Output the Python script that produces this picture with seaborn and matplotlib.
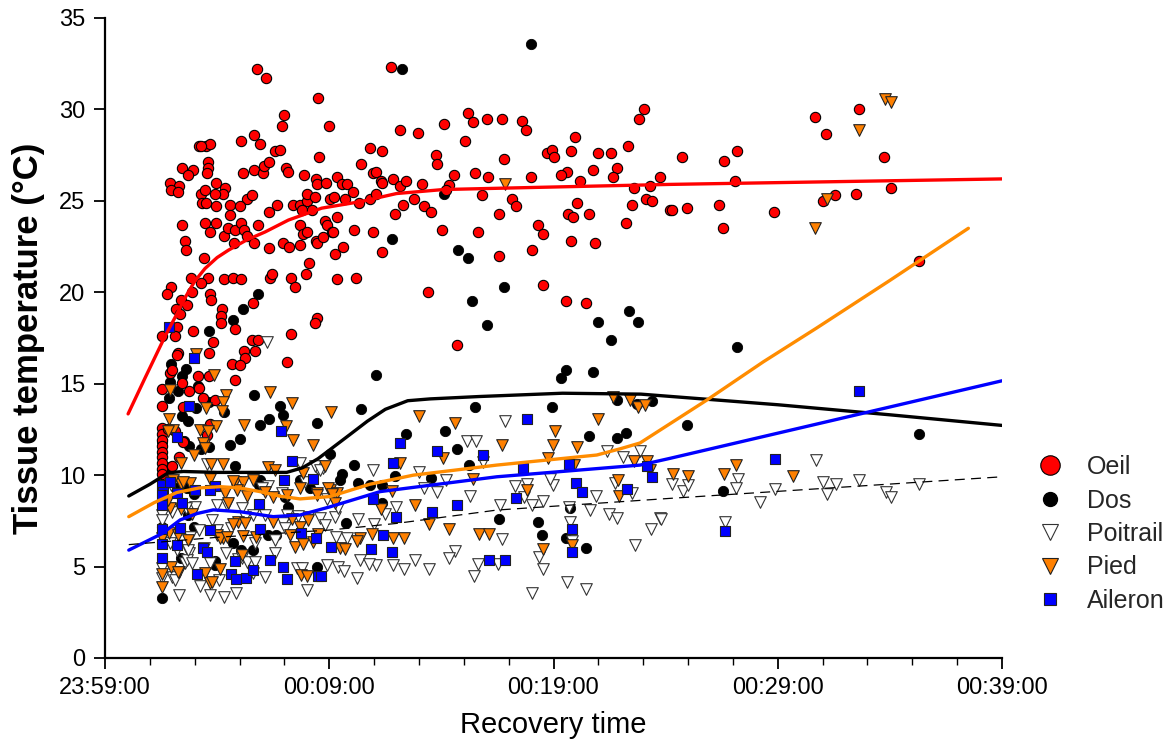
import matplotlib
matplotlib.use("Agg")
import matplotlib.pyplot as plt
import seaborn as sns
import pandas as pd
from matplotlib.lines import Line2D
from matplotlib.ticker import MultipleLocator, FixedLocator, FixedFormatter

# ---------------- data (x = minutes after 23:59:00, y = temperature °C) -------------
xtick_pos = [0, 10, 20, 30, 40]
xtick_labels = ["23:59:00", "00:09:00", "00:19:00", "00:29:00", "00:39:00"]
ytick_vals = [0, 5, 10, 15, 20, 25, 30, 35]

oeil = [
    (6.8,32.2),(7.2,31.7),(9.5,30.6),(8.0,29.7),(7.9,29.1),(10.0,29.1),
    (4.2,28.0),(4.5,28.0),(4.7,28.1),(4.3,28.0),(6.05,28.3),(6.65,28.6),(6.9,28.1),(7.57,27.7),(7.82,27.8),(9.56,27.4),
    (4.6,27.1),(4.6,26.8),(4.54,26.5),(3.43,26.8),(3.94,26.7),(3.72,26.4),(2.89,26.0),(3.31,25.8),(2.94,25.6),(3.26,25.5),
    (4.94,26.0),(5.37,25.7),(5.26,25.4),(4.92,25.4),(4.27,25.4),(4.47,25.6),(4.31,24.9),(4.52,24.9),(4.95,24.7),
    (6.17,26.5),(6.65,26.7),(7.03,26.5),(7.08,26.9),(7.33,27.1),(8.09,26.8),(8.15,26.6),(8.89,26.4),
    (9.4,26.2),(9.46,25.9),(9.87,26.0),(10.35,26.3),(10.58,25.9),(10.78,25.9),
    (6.33,25.1),(6.54,25.3),(5.59,24.8),(6.04,24.7),(7.67,24.8),(8.37,24.8),(8.7,24.8),(9.02,25.0),(9.01,25.4),(9.35,25.2),
    (8.79,24.5),(9.25,24.5),(10.04,25.1),(10.23,25.2),
    (5.58,24.2),(7.3,24.4),(3.43,23.7),(4.47,23.8),(4.94,23.8),(4.7,23.3),(5.29,23.1),(5.47,23.5),(5.78,23.4),(6.08,23.8),
    (6.2,23.4),(6.32,23.1),(6.82,23.7),(5.77,22.7),(6.65,22.7),
    (8.71,23.7),(8.83,23.2),(9.0,23.3),(9.83,23.9),(9.89,23.7),(10.14,23.3),(7.95,22.7),(8.22,22.5),(7.33,22.4),(8.71,22.6),
    (9.4,22.8),(9.46,22.7),(9.74,23.0),(10.27,22.1),(10.63,22.5),
    (3.55,22.8),(3.63,22.3),(4.43,21.9),(9.11,21.6),
    (3.85,20.8),(4.61,20.8),(5.29,20.7),(5.71,20.8),(6.05,20.7),(4.3,20.5),(7.34,20.8),(7.45,21.0),(8.31,20.8),(8.47,20.3),
    (8.95,21.0),(10.33,20.7),
    (2.96,20.3),(2.75,19.9),(3.39,19.6),(3.66,19.3),(3.17,19.1),(3.35,18.8),(3.86,20.0),(4.7,19.9),(4.73,19.6),(5.21,19.1),
    (5.16,18.7),(5.17,18.3),(5.8,18.0),(6.59,19.4),(9.46,18.6),(9.37,18.3),
    (3.21,18.1),(2.56,17.6),(3.14,17.6),(3.91,17.9),(4.83,17.3),(4.65,16.7),(6.56,17.4),(6.84,17.4),(6.69,16.8),(6.18,16.8),
    (8.3,17.7),(3.24,16.7),
    (6.26,16.4),(5.68,16.1),(6.03,16.0),(8.12,16.2),(3.2,16.55),(2.9,15.6),(2.97,15.75),(3.42,15.05),(4.15,15.4),(4.64,15.4),
    (5.8,15.2),(3.73,14.6),(2.56,14.7),(2.54,13.8),(3.46,13.7),(4.19,14.75),(4.39,14.2),(4.9,14.1),
    (2.54,12.56),(2.54,12.23),(2.54,11.92),(2.54,11.6),(2.54,11.28),(2.54,10.97),(2.54,10.64),(2.54,10.33),(2.54,10.06),
    (2.83,12.5),(3.14,12.4),(3.46,11.8),(3.3,11.0),(3.0,10.5),(4.68,12.8),(4.54,12.2),
    (12.76,32.3),(16.18,29.8),(16.4,29.3),(17.03,29.45),(17.69,29.45),(18.61,29.36),(18.79,28.9),(24.03,30.0),(23.8,29.5),
    (13.14,28.9),(13.96,28.7),(15.12,29.2),(16.07,28.3),(11.83,27.9),(12.33,27.7),(11.42,27.0),(14.76,27.5),(14.79,27.0),
    (17.8,27.3),(19.7,27.6),(19.95,27.8),(20.02,27.4),(20.78,27.7),(20.98,28.5),(21.97,27.6),(22.58,27.6),(23.34,28.0),
    (22.85,26.8),(22.66,26.3),(21.75,26.7),(20.58,26.6),(20.34,26.4),(21.2,26.1),(19.0,26.3),(17.1,26.3),(16.49,26.5),
    (15.56,26.4),(11.08,25.5),(11.94,26.5),(12.07,26.6),(12.31,26.1),(12.37,26.0),(12.83,26.2),(13.16,25.8),(13.43,26.1),
    (14.12,25.9),(15.34,25.85),(15.21,25.6),(23.61,25.7),(24.31,25.8),(24.74,26.3),
    (10.72,25.1),(11.34,24.9),(11.83,25.1),(12.1,25.4),(13.8,25.1),(13.29,24.8),(12.95,24.3),(14.21,24.7),(14.54,24.4),
    (16.82,25.3),(18.15,25.1),(18.32,24.7),(17.59,24.3),(21.04,24.9),(20.66,24.3),(20.87,24.1),(21.59,24.3),(23.5,24.8),
    (24.14,25.1),(24.4,25.0),(23.25,23.8),(25.2,24.5),(10.35,24.1),(10.15,23.3),(11.09,23.4),(11.94,23.3),(15.03,23.4),
    (16.65,23.3),(19.31,23.7),(19.52,23.2),(20.78,22.8),(21.87,22.7),(12.34,22.2),(17.56,22.0),(19.03,22.3),(11.2,20.8),
    (14.4,20.0),(19.51,20.4),(20.56,19.5),(21.45,19.4),(15.68,17.1),
    (31.64,29.6),(33.62,30.0),(32.16,28.65),(25.74,27.4),(27.6,27.2),(28.19,27.7),(34.76,27.4),(25.29,24.5),(25.96,24.6),
    (27.4,24.8),(28.1,26.1),(27.58,23.5),(29.84,24.4),(32.0,25.0),(32.56,25.3),(33.51,25.4),(35.04,25.7),(36.29,21.7),
]

dos = [
    (13.26,32.2),(19.0,33.6),(15.12,25.4),(12.8,22.9),(15.73,22.3),(16.18,21.9),(17.78,20.3),(16.38,19.5),(17.03,18.2),
    (21.97,18.4),(22.57,17.4),(23.35,19.0),(23.79,18.4),(28.19,17.0),
    (6.81,19.9),(6.14,19.1),(5.7,18.5),(4.64,17.9),(2.93,16.1),(3.61,15.8),(3.42,15.4),(4.13,14.9),(2.88,15.1),(3.24,14.6),
    (2.87,14.2),(4.04,13.65),(3.43,13.25),(3.7,12.97),(6.65,14.4),(4.65,14.0),(5.29,13.45),(7.82,13.8),(7.92,13.3),
    (7.31,13.05),(6.9,12.72),(9.47,12.83),(6.02,11.96),(5.58,11.63),(3.52,11.88),(3.73,11.59),(4.27,11.44),(4.62,11.55),
    (5.81,10.49),(2.91,10.47),(10.04,11.14),(10.58,10.04),(10.73,7.36),(2.54,7.18),(2.54,3.26),(3.28,9.37),(3.67,9.28),
    (5.69,6.3),(7.61,6.72),(7.28,6.72),(6.91,9.71),(6.87,9.45),(8.7,9.73),(9.14,9.31),(6.07,5.9),(6.61,5.9),(4.89,5.29),
    (9.44,5.0),(3.37,5.49),(3.7,7.82),(3.97,7.18),(3.98,8.95),(4.91,5.1),(8.03,8.83),(8.18,8.28),(10.48,9.73),(2.54,11.8),
    (12.07,15.45),(11.42,13.6),(13.43,12.25),(15.17,12.43),(15.68,11.45),(16.49,13.72),(19.94,13.72),(20.56,15.75),
    (20.35,15.33),(21.75,15.62),(22.85,14.1),(23.71,13.9),(24.4,14.05),(21.59,12.14),(22.85,12.03),(23.25,12.32),
    (11.1,10.55),(11.28,9.58),(11.82,9.46),(12.35,9.46),(12.95,9.95),(12.34,8.5),(14.52,9.82),(16.25,10.55),(17.56,7.6),
    (19.31,7.44),(19.5,6.74),(20.56,6.55),(21.45,6.03),(20.75,8.22),(25.96,12.72),(36.29,12.23),(27.58,9.12),
]

poitrail = [
    (7.21,17.3),(4.54,10.61),(2.94,9.46),(2.54,7.82),(2.54,7.55),(4.98,8.39),(5.43,8.37),(6.61,7.82),(7.14,7.82),(7.58,6.45),
    (8.1,7.82),(9.07,7.73),(8.7,10.65),(9.44,10.38),(9.74,10.38),(10.26,7.73),(10.3,6.63),(10.78,6.55),(4.76,7.55),
    (3.76,5.72),(3.57,5.18),(3.0,4.45),(3.3,3.44),(4.24,3.95),(4.68,3.44),(5.32,3.35),(5.83,3.54),(5.4,5.72),(5.95,5.4),
    (6.47,5.09),(7.58,5.72),(9.0,3.72),(9.89,5.09),(10.41,5.0),(8.55,4.92),(8.79,4.92),(5.08,4.26),(6.61,4.63),(7.14,4.45),
    (3.2,5.9),(3.64,5.36),(4.68,5.18),(2.54,4.92),(6.1,8.18),(6.24,7.73),(4.01,8.27),(3.72,5.9),(3.86,5.21),(2.53,4.36),
    (3.12,4.26),(9.37,10.48),(9.59,10.28),(7.29,9.4),(7.95,7.36),(8.03,7.09),(8.62,7.76),(9.59,7.64),(9.81,7.27),(6.1,5.45),
    (6.32,5.27),(6.69,5.27),(3.0,8.0),(3.6,8.2),(4.2,7.0),(2.9,6.3),(3.8,6.6),(4.4,6.0),(5.0,7.0),(5.6,7.1),(6.7,6.3),
    (7.0,9.3),(7.9,9.0),(8.9,9.6),(9.9,8.7),(10.4,8.2),
    (17.84,12.97),(16.13,11.88),(16.53,11.88),(11.97,10.28),(14.02,10.15),(15.19,9.75),(16.87,10.7),(14.23,9.28),(14.81,9.06),
    (18.3,9.4),(18.81,9.51),(19.99,9.48),(19.85,9.81),(16.29,8.86),(17.63,8.37),(18.7,8.83),(19.04,8.37),(19.55,8.57),
    (20.7,8.27),(21.9,8.88),(21.63,8.09),(22.48,7.9),(22.85,7.67),(23.84,11.3),(22.76,9.59),(23.5,9.0),(24.77,7.64),
    (24.34,7.04),(23.65,6.16),(12.98,8.27),(12.49,7.87),(11.98,7.33),(11.3,7.58),(17.71,6.51),(15.6,5.85),(15.34,5.45),
    (13.83,5.36),(14.43,4.89),(16.63,5.16),(17.54,5.16),(16.46,4.5),(12.85,5.07),(13.34,4.85),(12.1,5.07),(11.37,5.36),
    (11.78,5.13),(10.68,4.76),(11.22,4.36),(19.55,4.87),(19.34,5.54),(20.59,4.14),(19.06,3.54),(21.47,3.75),(20.75,7.46),
    (20.83,6.42),(22.38,11.3),(23.1,11.0),
    (25.3,9.51),(25.77,9.13),(25.99,9.44),(28.23,9.81),(28.13,9.32),(29.87,9.22),(29.21,8.51),(31.7,10.83),(32.04,9.62),
    (32.59,9.53),(32.19,8.95),(33.64,9.73),(34.82,9.06),(35.06,8.82),(36.32,9.53),(24.78,7.62),(27.63,7.42),
]

pied = [
    (4.07,16.65),(4.85,15.45),(2.9,14.65),(5.38,14.38),(5.28,13.98),(4.5,13.65),(7.36,14.57),(8.35,13.94),(10.06,13.45),
    (2.85,13.05),(4.96,12.68),(4.24,12.47),(4.61,12.43),(6.2,12.73),(3.05,12.47),(2.82,12.43),(8.06,12.68),(8.4,11.92),
    (3.98,11.1),(4.43,11.65),(5.28,10.61),(4.73,10.61),(3.39,10.64),(9.29,11.63),(9.83,10.48),(7.27,10.42),(7.57,10.3),
    (8.85,10.1),(5.81,9.62),(6.17,9.62),(6.61,9.73),(3.37,9.51),(3.79,9.55),(5.35,9.0),(5.87,9.19),(7.5,8.83),(8.1,8.91),
    (9.44,9.0),(10.04,9.19),(2.9,8.18),(3.39,8.13),(5.5,8.5),(5.95,7.46),(6.26,7.36),(5.69,7.33),(7.48,7.46),(8.35,7.58),
    (9.07,7.55),(2.53,6.55),(2.85,6.82),(3.72,6.45),(4.98,6.72),(5.28,6.55),(6.17,6.67),(6.73,6.63),(8.47,6.09),(8.82,6.23),
    (9.29,6.36),(10.48,6.0),(10.7,5.94),(2.96,4.96),(3.3,4.69),(2.54,4.59),(4.46,4.67),(4.68,4.08),(8.73,4.54),(9.0,4.48),
    (2.54,3.9),(5.13,4.88),(5.2,13.5),(4.38,11.74),(4.46,11.47),(3.05,9.73),(3.49,9.64),(4.68,9.77),(5.72,9.7),(2.82,8.64),
    (3.86,7.9),(3.27,6.72),(5.13,6.55),(5.43,6.63),(3.27,4.72),(4.76,4.17),(6.1,5.63),(8.7,9.28),(9.44,8.91),(9.96,9.28),
    (7.14,9.1),(6.32,8.86),(10.33,9.0),(8.25,6.72),(8.7,7.18),(9.51,6.78),
    (13.99,13.23),(15.6,12.83),(22.0,13.05),(20.07,12.4),(19.98,11.65),(21.05,11.56),(17.71,11.65),(15.06,10.96),
    (13.17,10.65),(19.77,10.96),(20.9,10.58),(22.66,14.3),(23.42,14.1),(23.79,13.75),(24.09,13.83),(23.57,10.75),
    (24.19,10.8),(22.87,9.73),(22.91,8.88),(16.43,9.81),(18.81,9.17),(12.79,9.15),(10.12,8.97),(10.24,8.46),(12.32,8.15),
    (13.84,8.34),(14.45,7.35),(15.33,7.05),(16.66,6.76),(17.11,6.76),(11.9,6.76),(11.36,6.55),(11.22,6.42),(12.86,6.55),
    (13.34,6.55),(19.55,5.98),(20.83,6.18),(24.31,10.28),(28.13,10.55),(25.32,10.06),(25.99,9.97),(27.62,10.06),
    (30.67,9.95),(34.79,30.55),(35.07,30.4),(33.63,28.85),(32.19,25.1),(31.68,23.5),(17.84,25.9),
]

aileron = [
    (2.84,18.1),(3.95,16.4),(3.73,13.8),(3.2,12.1),(7.85,12.4),(8.34,10.77),(8.0,9.74),(9.29,9.8),(2.54,9.46),(2.6,9.1),
    (2.9,9.64),(3.2,9.0),(3.45,8.5),(4.9,9.43),(4.68,9.19),(6.86,8.44),(2.54,8.37),(2.54,7.07),(2.54,6.23),(2.54,5.48),
    (3.21,6.2),(3.36,7.13),(4.68,7.0),(4.35,6.0),(4.53,5.8),(6.91,7.07),(7.36,5.38),(7.93,4.99),(8.12,4.32),(5.8,5.29),
    (5.6,4.58),(5.84,4.3),(6.27,4.39),(6.61,4.81),(4.12,4.59),(8.73,6.82),(9.41,6.56),(10.1,6.09),(9.51,4.5),(9.62,4.5),
    (2.53,8.91),(4.01,9.19),
    (13.17,11.78),(14.82,11.3),(16.87,11.1),(18.82,13.07),(12.85,10.68),(18.64,10.39),(20.7,10.59),(20.99,9.57),(21.25,9.1),
    (23.28,9.24),(24.19,10.5),(24.41,9.9),(18.33,8.77),(11.95,8.69),(15.71,8.38),(14.58,8.0),(12.96,7.69),(12.4,6.73),
    (11.88,5.98),(12.79,5.82),(17.12,5.38),(17.83,5.38),(20.83,7.07),(20.83,5.8),(33.64,14.6),(29.88,10.9),(27.63,6.92),
]

# smoothed trend curves
oeil_fit_t = [1.03, 1.78, 2.68, 3.2, 3.57, 4.0, 4.46, 5.0, 5.5, 6.3, 7.14, 8.18, 9.66, 11.45, 13.0, 15.1, 19.0, 25.2, 40.0]
oeil_fit_v = [13.35, 15.3, 17.6, 18.8, 19.7, 20.6, 21.3, 21.9, 22.3, 22.85, 23.3, 23.95, 24.6, 24.97, 25.4, 25.62, 25.73, 25.9, 26.2]
dos_fit_t = [1.06, 2.0, 2.82, 3.5, 5.0, 8.1, 8.8, 9.5, 10.04, 10.9, 11.7, 12.5, 13.5, 14.5, 16.7, 20.4, 23.9, 30.0, 35.0, 40.0]
dos_fit_v = [8.86, 9.5, 10.13, 10.2, 10.15, 10.15, 10.4, 10.9, 11.4, 12.2, 12.95, 13.6, 14.07, 14.17, 14.3, 14.48, 14.43, 13.85, 13.3, 12.72]
pied_fit_t = [1.06, 2.2, 3.2, 4.2, 5.13, 6.0, 6.91, 7.8, 8.7, 10.04, 11.8, 13.75, 17.47, 21.93, 23.0, 23.86, 26.83, 29.36, 31.74, 35.0, 38.5]
pied_fit_v = [7.73, 8.5, 9.05, 9.3, 9.37, 9.3, 9.1, 8.85, 8.7, 8.83, 9.5, 10.0, 10.55, 11.1, 11.45, 11.76, 14.1, 16.2, 18.05, 20.65, 23.5]
aileron_fit_t = [1.06, 2.54, 3.35, 4.1, 4.83, 6.02, 7.5, 8.7, 10.04, 12.27, 17.47, 23.86, 25.2, 40.0]
aileron_fit_v = [5.9, 6.8, 7.55, 7.9, 8.1, 8.0, 7.73, 7.82, 8.27, 9.1, 9.91, 10.55, 10.92, 15.16]
poitrail_fit_t = [1.06, 5.0, 10.04, 13.0, 17.47, 25.2, 40.0]
poitrail_fit_v = [6.2, 6.6, 7.0, 7.36, 8.09, 8.73, 9.91]

# ---------------- figure ----------------
sns.set_theme(style="white")
plt.rcParams["font.family"] = ["Liberation Sans", "DejaVu Sans"]

fig = plt.figure(figsize=(11.74, 7.47), dpi=100)
ax = fig.add_axes([105/1174, 89/747, 897/1174, 640/747])


def df(pairs):
    return pd.DataFrame(pairs, columns=["t", "v"])


common = dict(ax=ax, legend=False)
sns.scatterplot(data=df(dos), x="t", y="v", marker="o", s=55, color="black",
                edgecolor="black", linewidth=0.6, zorder=3, **common)
sns.scatterplot(data=df(oeil), x="t", y="v", marker="o", s=55, color="#ff0000",
                edgecolor="black", linewidth=0.8, zorder=3, **common)
sns.scatterplot(data=df(poitrail), x="t", y="v", marker="v", s=70, color="white",
                edgecolor="#333333", linewidth=0.8, zorder=3, **common)
sns.scatterplot(data=df(pied), x="t", y="v", marker="v", s=70, color="#ff8000",
                edgecolor="#222222", linewidth=0.8, zorder=3, **common)
sns.scatterplot(data=df(aileron), x="t", y="v", marker="s", s=55, color="#0000ff",
                edgecolor="#222222", linewidth=0.8, zorder=3, **common)

line_kw = dict(ax=ax, sort=False, estimator=None, legend=False, zorder=5)
sns.lineplot(x=oeil_fit_t, y=oeil_fit_v, color="#ff0000", linewidth=2.4, **line_kw)
sns.lineplot(x=dos_fit_t, y=dos_fit_v, color="black", linewidth=2.4, **line_kw)
sns.lineplot(x=pied_fit_t, y=pied_fit_v, color="#ff8c00", linewidth=2.4, **line_kw)
sns.lineplot(x=aileron_fit_t, y=aileron_fit_v, color="#0000ff", linewidth=2.4, **line_kw)
sns.lineplot(x=poitrail_fit_t, y=poitrail_fit_v, color="black", linewidth=0.9,
             linestyle=(0, (8, 5)), **line_kw)

ax.set_xlim(0, 40)
ax.set_ylim(0, 35)
ax.xaxis.set_major_locator(FixedLocator(xtick_pos))
ax.xaxis.set_major_formatter(FixedFormatter(xtick_labels))
ax.xaxis.set_minor_locator(MultipleLocator(2))
ax.set_yticks(ytick_vals)

for side in ["top", "right"]:
    ax.spines[side].set_visible(False)
for side in ["left", "bottom"]:
    ax.spines[side].set_color("black")
    ax.spines[side].set_linewidth(1.6)

ax.tick_params(axis="both", which="major", direction="out", length=8, width=1.3,
               color="black", labelsize=17, labelcolor="black", bottom=True, left=True, pad=6)
ax.tick_params(axis="x", which="minor", direction="out", length=5, width=1.0,
               color="black", bottom=True)

ax.set_xlabel("Recovery time", fontsize=21, color="black", labelpad=8)
ax.set_ylabel("Tissue temperature (°C)", fontsize=25, fontweight="bold", color="black", labelpad=10)

handles = [
    Line2D([], [], marker="o", linestyle="none", markersize=14, markerfacecolor="#ff0000",
           markeredgecolor="black", markeredgewidth=0.8),
    Line2D([], [], marker="o", linestyle="none", markersize=10, markerfacecolor="black",
           markeredgecolor="black"),
    Line2D([], [], marker="v", linestyle="none", markersize=11, markerfacecolor="white",
           markeredgecolor="#333333", markeredgewidth=0.8),
    Line2D([], [], marker="v", linestyle="none", markersize=11, markerfacecolor="#ff8000",
           markeredgecolor="#222222", markeredgewidth=0.8),
    Line2D([], [], marker="s", linestyle="none", markersize=9, markerfacecolor="#0000ff",
           markeredgecolor="#222222", markeredgewidth=0.8),
]
labels = ["Oeil", "Dos", "Poitrail", "Pied", "Aileron"]
fig.legend(handles, labels, loc="center left", bbox_to_anchor=(1022/1174, 1 - 534/747),
           frameon=False, fontsize=18, handletextpad=0.9, labelspacing=0.38,
           borderpad=0.0, handlelength=1.2)

fig.savefig("out.png", dpi=100)
